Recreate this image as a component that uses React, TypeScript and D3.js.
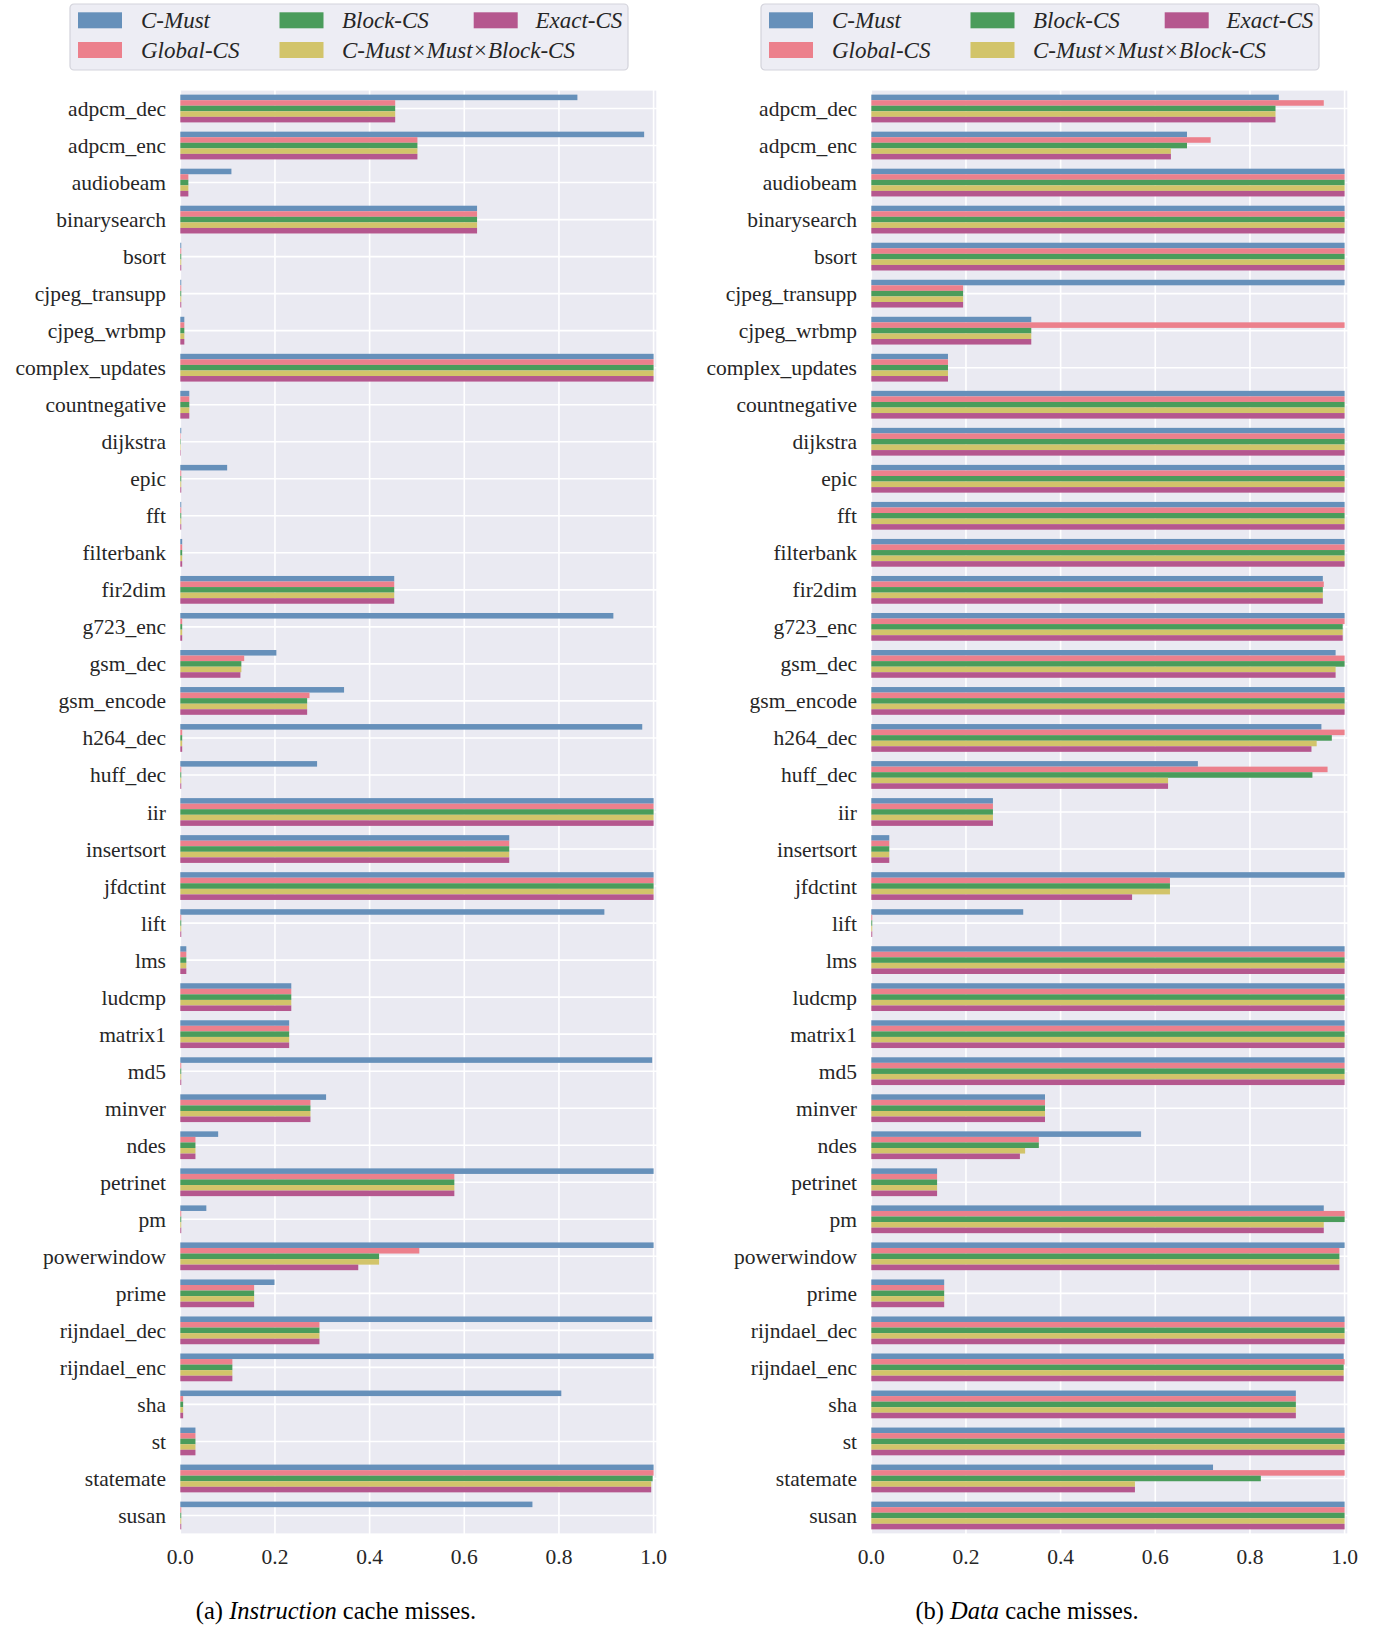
import React from "react";
import * as d3 from "d3";

const categories = [
  "adpcm_dec", "adpcm_enc", "audiobeam", "binarysearch", "bsort", "cjpeg_transupp",
  "cjpeg_wrbmp", "complex_updates", "countnegative", "dijkstra", "epic", "fft",
  "filterbank", "fir2dim", "g723_enc", "gsm_dec", "gsm_encode", "h264_dec", "huff_dec",
  "iir", "insertsort", "jfdctint", "lift", "lms", "ludcmp", "matrix1", "md5", "minver",
  "ndes", "petrinet", "pm", "powerwindow", "prime", "rijndael_dec", "rijndael_enc",
  "sha", "st", "statemate", "susan",
];

const seriesNames = ["C-Must", "Global-CS", "Block-CS", "C-Must\u00d7Must\u00d7Block-CS", "Exact-CS"];
const seriesColors = ["#6690ba", "#ec808c", "#4a9c5b", "#d2c46a", "#b5578e"];

// (a) Instruction cache misses
const instrCMust = [0.839, 0.980, 0.108, 0.627, 0.002, 0.002, 0.0085, 1.0, 0.019, 0.002, 0.099, 0.002, 0.004, 0.452, 0.915, 0.203, 0.346, 0.976, 0.289, 1.0, 0.695, 1.0, 0.896, 0.0127, 0.2345, 0.230, 0.997, 0.308, 0.080, 1.0, 0.055, 1.0, 0.199, 0.997, 1.0, 0.805, 0.032, 1.0, 0.744];
const instrGlobalCS = [0.454, 0.501, 0.017, 0.627, 0.002, 0.002, 0.0085, 1.0, 0.019, 0.001, 0.002, 0.002, 0.004, 0.452, 0.004, 0.135, 0.273, 0.004, 0.002, 1.0, 0.695, 1.0, 0.002, 0.0127, 0.2345, 0.230, 0.002, 0.275, 0.032, 0.579, 0.002, 0.505, 0.156, 0.294, 0.110, 0.006, 0.032, 1.0, 0.002];
const instrBlockCS = [0.454, 0.501, 0.017, 0.627, 0.002, 0.002, 0.0085, 1.0, 0.019, 0.001, 0.002, 0.002, 0.004, 0.452, 0.004, 0.129, 0.268, 0.004, 0.002, 1.0, 0.695, 1.0, 0.002, 0.0127, 0.2345, 0.230, 0.002, 0.275, 0.032, 0.579, 0.002, 0.420, 0.156, 0.294, 0.110, 0.006, 0.032, 0.998, 0.002];
const instrCombo = [0.454, 0.501, 0.017, 0.627, 0.002, 0.002, 0.0085, 1.0, 0.019, 0.001, 0.002, 0.002, 0.004, 0.452, 0.004, 0.129, 0.268, 0.004, 0.002, 1.0, 0.695, 1.0, 0.002, 0.0127, 0.2345, 0.230, 0.002, 0.275, 0.032, 0.579, 0.002, 0.420, 0.156, 0.294, 0.110, 0.006, 0.032, 0.995, 0.002];
const instrExactCS = [0.454, 0.501, 0.017, 0.627, 0.002, 0.002, 0.0085, 1.0, 0.019, 0.001, 0.002, 0.002, 0.004, 0.452, 0.004, 0.127, 0.268, 0.004, 0.002, 1.0, 0.695, 1.0, 0.002, 0.0127, 0.2345, 0.230, 0.002, 0.275, 0.032, 0.579, 0.002, 0.376, 0.156, 0.294, 0.110, 0.006, 0.032, 0.995, 0.002];

// (b) Data cache misses
const dataCMust = [0.861, 0.667, 1, 1, 1, 1.0, 0.338, 0.162, 1, 1, 1, 1, 1, 0.954, 1.0, 0.981, 1, 0.951, 0.690, 0.257, 0.038, 1.0, 0.321, 1, 1, 1, 1, 0.367, 0.570, 0.139, 0.956, 1.0, 0.154, 1, 0.998, 0.897, 1, 0.722, 1];
const dataGlobalCS = [0.956, 0.717, 1, 1, 1, 0.194, 1.0, 0.162, 1, 1, 1, 1, 1, 0.956, 1.0, 1.0, 1, 1.0, 0.964, 0.257, 0.038, 0.631, 0.002, 1, 1, 1, 1, 0.367, 0.354, 0.139, 1.0, 0.989, 0.154, 1, 1.0, 0.897, 1, 1.0, 1];
const dataBlockCS = [0.854, 0.667, 1, 1, 1, 0.194, 0.338, 0.162, 1, 1, 1, 1, 1, 0.954, 0.996, 1.0, 1, 0.973, 0.932, 0.257, 0.038, 0.631, 0.002, 1, 1, 1, 1, 0.367, 0.354, 0.139, 1.0, 0.989, 0.154, 1, 0.998, 0.897, 1, 0.823, 1];
const dataCombo = [0.854, 0.633, 1, 1, 1, 0.194, 0.338, 0.162, 1, 1, 1, 1, 1, 0.954, 0.996, 0.981, 1, 0.941, 0.627, 0.257, 0.038, 0.631, 0.002, 1, 1, 1, 1, 0.367, 0.325, 0.139, 0.956, 0.989, 0.154, 1, 0.998, 0.897, 1, 0.557, 1];
const dataExactCS = [0.854, 0.633, 1, 1, 1, 0.194, 0.338, 0.162, 1, 1, 1, 1, 1, 0.954, 0.996, 0.981, 1, 0.930, 0.627, 0.257, 0.038, 0.551, 0.002, 1, 1, 1, 1, 0.367, 0.314, 0.139, 0.956, 0.989, 0.154, 1, 0.998, 0.897, 1, 0.557, 1];

const xTicks = [0, 0.2, 0.4, 0.6, 0.8, 1.0];
const xTickLabels = ["0.0", "0.2", "0.4", "0.6", "0.8", "1.0"];

const instrSeries = [instrCMust, instrGlobalCS, instrBlockCS, instrCombo, instrExactCS];
const dataSeries = [dataCMust, dataGlobalCS, dataBlockCS, dataCombo, dataExactCS];

const FONT = "'Liberation Serif', 'Times New Roman', serif";
const TEXT = "#262626";
const BG = "#eaeaf2";

function Legend({ ox }: { ox: number }) {
  const bx = ox + 70;
  const colPatch = [8, 209.5, 403.7];
  const colText = [71, 272, 465.5];
  const rowTop = [12.3, 42];
  const items = [
    { s: 0, c: 0, r: 0 },
    { s: 1, c: 0, r: 1 },
    { s: 2, c: 1, r: 0 },
    { s: 3, c: 1, r: 1 },
    { s: 4, c: 2, r: 0 },
  ];
  return (
    <g>
      <rect x={bx} y={4} width={558} height={66} rx={4} ry={4} fill="#ededf4" stroke="#d3d3db" strokeWidth={1.2} />
      {items.map((it) => (
        <g key={it.s}>
          <rect x={bx + colPatch[it.c]} y={rowTop[it.r]} width={44} height={16} fill={seriesColors[it.s]} />
          <text x={bx + colText[it.c]} y={rowTop[it.r] + 16} fontFamily={FONT} fontStyle="italic" fontSize={23} fill={TEXT}>
            {seriesNames[it.s]}
          </text>
        </g>
      ))}
    </g>
  );
}

function Panel({ ox, series, prefix, italic }: { ox: number; series: number[][]; prefix: string; italic: string }) {
  const x = d3.scaleLinear().domain([0, 1]).range([ox + 180.3, ox + 653.6]);
  const y = d3.scaleLinear().domain([-0.5, categories.length - 0.5]).range([90, 1534]);
  const barH = 0.15;
  const unit = y(1) - y(0);
  const bgX0 = x(-0.002);
  const bgX1 = x(1.007);
  return (
    <g>
      <Legend ox={ox} />
      <rect x={bgX0} y={y(-0.5)} width={bgX1 - bgX0} height={y(categories.length - 0.5) - y(-0.5)} fill={BG} stroke="#ffffff" strokeWidth={1.25} />
      {xTicks.map((t) => (
        <line key={"gx" + t} x1={x(t)} x2={x(t)} y1={y(-0.5)} y2={y(categories.length - 0.5)} stroke="#ffffff" strokeWidth={1.6} />
      ))}
      {categories.map((c, i) => (
        <line key={"gy" + c} x1={bgX0} x2={bgX1} y1={y(i)} y2={y(i)} stroke="#ffffff" strokeWidth={1.6} />
      ))}
      {series.map((vals, s) =>
        vals.map((v, i) => (
          <rect
            key={s + "-" + i}
            x={x(0)}
            y={y(i + (s - 2.5) * barH)}
            width={Math.max(0, x(v) - x(0))}
            height={barH * unit}
            fill={seriesColors[s]}
          />
        ))
      )}
      {categories.map((c, i) => (
        <text key={"yl" + c} x={ox + 166} y={y(i) + 7.5} textAnchor="end" fontFamily={FONT} fontSize={21.5} fill={TEXT}>
          {c}
        </text>
      ))}
      {xTicks.map((t, k) => (
        <text key={"xl" + t} x={x(t)} y={1564} textAnchor="middle" fontFamily={FONT} fontSize={21.5} fill={TEXT}>
          {xTickLabels[k]}
        </text>
      ))}
      <text x={ox + 336} y={1619} textAnchor="middle" fontFamily={FONT} fontSize={24.5} fill="#000">
        <tspan>{prefix} </tspan>
        <tspan fontStyle="italic">{italic}</tspan>
        <tspan> cache misses.</tspan>
      </text>
    </g>
  );
}

export default function App() {
  return (
    <svg
      width={1377}
      height={1626}
      viewBox="0 0 1377 1626"
      style={{ position: "absolute", left: 0, top: 0, background: "#ffffff" }}
    >
      <rect x={0} y={0} width={1377} height={1626} fill="#ffffff" />
      <Panel ox={0} series={instrSeries} prefix="(a)" italic="Instruction" />
      <Panel ox={691} series={dataSeries} prefix="(b)" italic="Data" />
    </svg>
  );
}
